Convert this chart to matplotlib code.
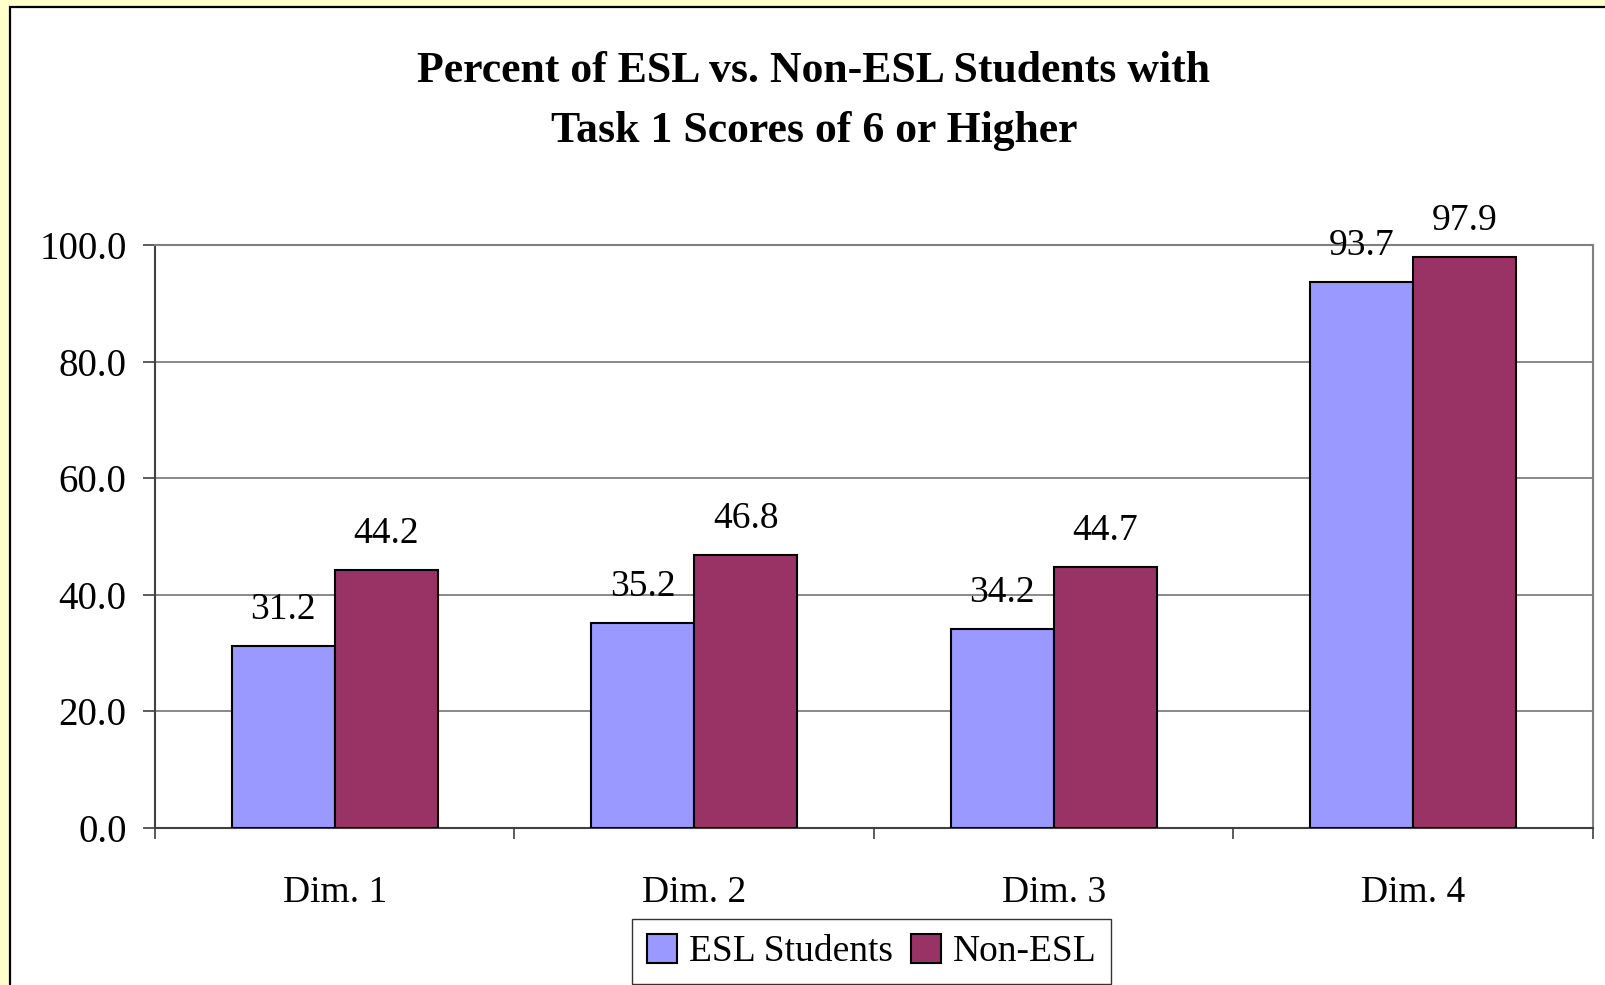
import matplotlib
matplotlib.use("Agg")
import matplotlib.pyplot as plt
import matplotlib.patches as mpatches
import numpy as np

categories = ["Dim. 1", "Dim. 2", "Dim. 3", "Dim. 4"]
esl = [31.2, 35.2, 34.2, 93.7]
non_esl = [44.2, 46.8, 44.7, 97.9]
series_names = ["ESL Students", "Non-ESL"]
yticks = [0, 20, 40, 60, 80, 100]
title_lines = ["Percent of ESL vs. Non-ESL Students with", "Task 1 Scores of 6 or Higher"]

W, H = 1606, 985
plt.rcParams["font.family"] = ["Liberation Serif", "DejaVu Serif"]
fig = plt.figure(figsize=(W / 100, H / 100), dpi=100)
fig.patch.set_facecolor("#FFFFCC")

# white chart panel with black frame
panel = mpatches.Rectangle((10 / W, -0.1), 1.2, 1 - 7 / H + 0.1,
                           transform=fig.transFigure, facecolor="white",
                           edgecolor="black", linewidth=1.6, zorder=-5)
fig.patches.append(panel)

ax = fig.add_axes([155 / W, 1 - 828 / H, (1593 - 155) / W, (828 - 245) / H])
ax.set_zorder(2)
ax.set_facecolor("white")

x = np.arange(len(categories))
bw = 0.287
c_esl, c_non = "#9999FF", "#993366"
ax.bar(x - bw / 2, esl, bw, color=c_esl, edgecolor="black", linewidth=1.5, zorder=3)
ax.bar(x + bw / 2, non_esl, bw, color=c_non, edgecolor="black", linewidth=1.5, zorder=3)

for xs, vals in ((x - bw / 2, esl), (x + bw / 2, non_esl)):
    for xi, v in zip(xs, vals):
        ax.annotate(f"{v:.1f}", (xi, v), xytext=(0, 19.5), textcoords="offset points",
                    ha="center", va="baseline", fontsize=27, zorder=4,
                    annotation_clip=False)

ax.set_xlim(-0.5, len(categories) - 0.5)
ax.set_ylim(0, 100)
ax.set_yticks(yticks)
ax.set_yticklabels([f"{t:.1f}" for t in yticks], fontsize=28)
ax.yaxis.grid(True, color="#808080", linewidth=1.3, zorder=1)
ax.set_axisbelow(True)
ax.tick_params(axis="y", direction="out", length=8.5, width=1.2, color="#404040", pad=12)

ax.set_xticks(np.arange(len(categories) + 1) - 0.5)
ax.set_xticklabels([])
ax.set_xticks(x, minor=True)
ax.set_xticklabels(categories, minor=True, fontsize=27)
ax.tick_params(axis="x", which="major", direction="out", length=8, width=1.2, color="#404040")
ax.tick_params(axis="x", which="minor", length=0, pad=34)

for side in ("top", "right"):
    ax.spines[side].set_color("#808080")
    ax.spines[side].set_linewidth(1.5)
for side in ("left", "bottom"):
    ax.spines[side].set_color("#404040")
    ax.spines[side].set_linewidth(1.5)

for line, ypx in zip(title_lines, (71, 131)):
    fig.text(814 / W, 1 - ypx / H, line, ha="center", va="center", fontsize=31.5,
             fontweight="bold")

handles = [mpatches.Patch(facecolor=c_esl, edgecolor="black", linewidth=1.5),
           mpatches.Patch(facecolor=c_non, edgecolor="black", linewidth=1.5)]
leg = fig.legend(handles, series_names, loc="upper center", ncol=2,
                 bbox_to_anchor=(872 / W, 1 - 919 / H), fontsize=27, frameon=True,
                 fancybox=False, edgecolor="black", handlelength=0.8, handleheight=0.8,
                 handletextpad=0.3, columnspacing=0.5, borderpad=0.4, borderaxespad=0)
leg.get_frame().set_linewidth(1.0)

fig.savefig("out.png", dpi=100, facecolor=fig.get_facecolor())
